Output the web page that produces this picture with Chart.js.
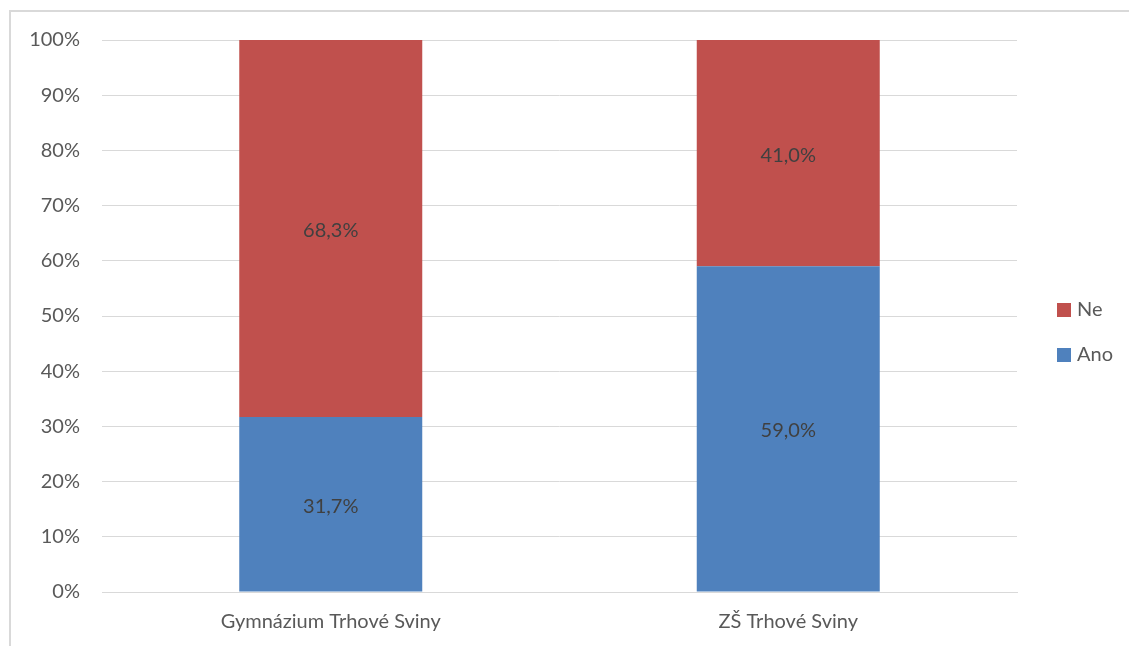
<!DOCTYPE html>
<html lang="cs">
<head>
    <meta charset="UTF-8">
    <title>Ano / Ne</title>
    <script src="https://cdn.jsdelivr.net/npm/chart.js"></script>
    <style>
        body {
            margin: 0;
            background-color: #ffffff;
            overflow: hidden;
        }

        .frame {
            position: absolute;
            left: 9px;
            top: 10px;
            width: 1140px;
            height: 660px;
            border: 2px solid #d9d9d9;
        }

        canvas {
            position: absolute;
            left: 0;
            top: 0;
        }
    </style>
</head>
<body>
    <div class="frame"></div>
    <canvas id="chart" width="1129" height="646"></canvas>

    <script>
        // data
        const categories = ['Gymnázium Trhové Sviny', 'ZŠ Trhové Sviny'];
        const ano = [31.7, 59.0];
        const ne = [68.3, 41.0];
        const yTicks = [0, 10, 20, 30, 40, 50, 60, 70, 80, 90, 100];

        const fontFamily = 'Lato, "Open Sans", sans-serif';

        function fmt(v) {
            return v.toFixed(1).replace('.', ',') + '%';
        }

        // popisky hodnot uprostred segmentu
        const valueLabels = {
            id: 'valueLabels',
            afterDatasetsDraw(chart) {
                const ctx = chart.ctx;
                ctx.save();
                ctx.font = '20px ' + fontFamily;
                ctx.fillStyle = '#404040';
                ctx.textAlign = 'center';
                ctx.textBaseline = 'middle';
                chart.data.datasets.forEach((ds, i) => {
                    const meta = chart.getDatasetMeta(i);
                    meta.data.forEach((bar, j) => {
                        const p = bar.getProps(['x', 'y', 'base'], true);
                        ctx.fillText(fmt(ds.data[j]), p.x, (p.y + p.base) / 2 + 2);
                    });
                });
                ctx.restore();
            }
        };

        // legenda vpravo (Ne nahore, Ano dole)
        const sideLegend = {
            id: 'sideLegend',
            afterDraw(chart) {
                const ctx = chart.ctx;
                const items = chart.data.datasets.slice().reverse();
                ctx.save();
                ctx.font = '20px ' + fontFamily;
                ctx.textBaseline = 'middle';
                items.forEach((ds, i) => {
                    const cy = 310 + i * 45;
                    ctx.fillStyle = ds.backgroundColor;
                    ctx.fillRect(1057, cy - 7, 14, 14);
                    ctx.fillStyle = '#595959';
                    ctx.fillText(ds.label, 1077, cy);
                });
                ctx.restore();
            }
        };

        const ctx = document.getElementById('chart').getContext('2d');
        const chart = new Chart(ctx, {
            type: 'bar',
            data: {
                labels: categories,
                datasets: [
                    { label: 'Ano', data: ano, backgroundColor: '#4F81BD' },
                    { label: 'Ne', data: ne, backgroundColor: '#C0504D' }
                ]
            },
            options: {
                responsive: false,
                animation: false,
                devicePixelRatio: 1,
                barPercentage: 0.4,
                categoryPercentage: 1.0,
                layout: {
                    padding: { top: 40, right: 112, bottom: 8, left: 0 }
                },
                plugins: {
                    legend: { display: false },
                    tooltip: { enabled: false }
                },
                scales: {
                    x: {
                        stacked: true,
                        grid: { display: false, drawTicks: false },
                        border: { display: true, color: '#d9d9d9', width: 1 },
                        ticks: {
                            color: '#595959',
                            padding: 18,
                            font: { family: fontFamily, size: 20 }
                        },
                        afterFit(scale) { scale.height = 46; }
                    },
                    y: {
                        stacked: true,
                        min: 0,
                        max: 100,
                        afterBuildTicks(scale) {
                            scale.ticks = yTicks.map(v => ({ value: v }));
                        },
                        grid: { color: '#d9d9d9', drawTicks: false },
                        border: { display: false },
                        ticks: {
                            color: '#595959',
                            padding: 22,
                            font: { family: fontFamily, size: 20 },
                            callback: v => v + '%'
                        },
                        afterFit(scale) { scale.width = 102; }
                    }
                }
            },
            plugins: [valueLabels, sideLegend]
        });
    </script>
</body>
</html>
